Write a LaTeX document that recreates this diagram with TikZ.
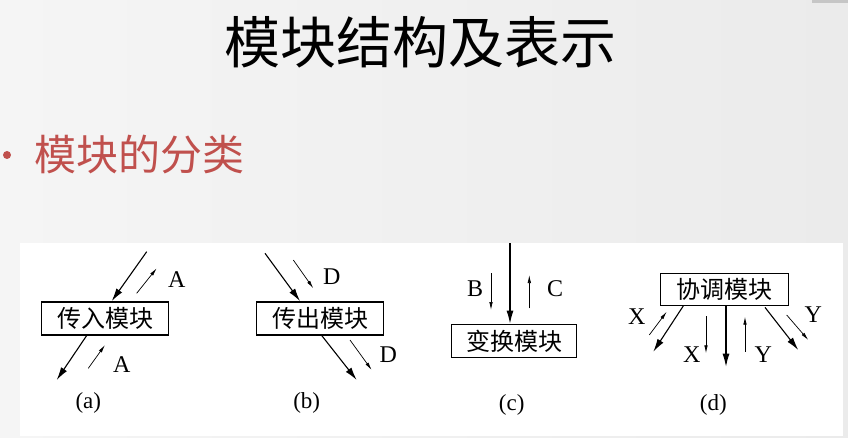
\documentclass[tikz,border=0pt]{standalone}
\usepackage{fontspec}
\setmainfont{Liberation Serif}
\newfontfamily\cjk{Noto Sans CJK SC}
\usetikzlibrary{arrows.meta,calc}
\definecolor{titlered}{HTML}{C0504D}
\definecolor{slidegray}{HTML}{EBEBEB}
\tikzset{
  modbox/.style={draw, line width=1.4pt, minimum width=127pt, minimum height=33pt, inner sep=0pt, font=\cjk\fontsize{24}{24}\selectfont},
  bigarr/.style={line width=1.1pt, -{Latex[length=13pt,width=7pt]}},
  smallarr/.style={line width=0.7pt, -{Latex[length=8pt,width=3.5pt]}},
  letter/.style={font=\fontsize{24}{24}\selectfont, inner sep=0pt},
  caption/.style={font=\fontsize{23}{23}\selectfont, inner sep=0pt}
}
\begin{document}
\begin{tikzpicture}[x=1pt,y=-1pt]
\useasboundingbox (0,0) rectangle (848,438);
% slide background and picture panel
\shade[left color=slidegray!50, middle color=white, right color=slidegray] (0,0) rectangle (848,438);
\fill[gray!45] (812,0) rectangle (848,3);
\fill[white] (20,243) rectangle (843,436);
\node[font=\cjk\fontsize{56}{56}\selectfont] (title) at (420,42) {模块结构及表示};
\node[circle, fill=titlered, inner sep=0pt, minimum size=8pt] (dot) at (7,155) {};
\node[anchor=west, text=titlered, font=\cjk\fontsize{42}{42}\selectfont] (kinds) at (31,155) {模块的分类};
% (a) incoming module
\node[modbox] (inbox) at (105,318.3) {传入模块};
\coordinate (ina) at (146.7,251.7); \coordinate (inb) at (56.7,380);
\draw[bigarr] (ina) -- ($(inbox.north)+(6.7,0)$);
\draw[bigarr] ($(inbox.south)+(-18.3,0)$) -- (inb);
\draw[smallarr] (136.7,293.3) coordinate (ins1) -- (156.7,268.3) coordinate (ine1);
\draw[smallarr] (88.3,368.3) coordinate (ins2) -- (105,345) coordinate (ine2);
\node[letter] (inA1) at (176.7,280) {A};
\node[letter] (inA2) at (121.7,365) {A};
\node[caption] (capa) at (88.3,403) {(a)};
% (b) outgoing module
\node[modbox] (outbox) at (320,318.3) {传出模块};
\coordinate (outa) at (265,253.3); \coordinate (outb) at (356.7,380);
\draw[bigarr] (outa) -- ($(outbox.north)+(-20,0)$);
\draw[bigarr] ($(outbox.south)+(1.7,0)$) -- (outb);
\draw[smallarr] (293.3,260) coordinate (outs1) -- (313.3,288.3) coordinate (oute1);
\draw[smallarr] (350,340) coordinate (outs2) -- (371.7,370) coordinate (oute2);
\node[letter] (outD1) at (331.7,276.7) {D};
\node[letter] (outD2) at (388.3,355) {D};
\node[caption] (capb) at (306.7,403) {(b)};
% (c) transform module
\node[modbox, minimum width=125pt] (transbox) at (514.2,340.8) {变换模块};
\coordinate (tra) at (510,243.3);
\draw[bigarr] (tra) -- (tra |- transbox.north);
\draw[smallarr] (491,273.3) coordinate (trs1) -- (491,310) coordinate (tre1);
\draw[smallarr] (529.3,308.3) coordinate (trs2) -- (529.3,275) coordinate (tre2);
\node[letter] (trB) at (475,288.3) {B};
\node[letter] (trC) at (555,288.3) {C};
\node[caption] (capc) at (511.7,405) {(c)};
% (d) coordinating module
\node[modbox, minimum width=128pt, minimum height=32pt] (coorbox) at (724.2,289.2) {协调模块};
\coordinate (coa) at (653.3,351.7); \coordinate (cob) at (726,366.7); \coordinate (coc) at (798.3,350);
\draw[bigarr] ($(coorbox.south)+(-40.9,0)$) -- (coa);
\draw[bigarr] (cob |- coorbox.south) -- (cob);
\draw[bigarr] ($(coorbox.south)+(40.8,1.5)$) -- (coc);
\draw[smallarr] (649.3,335) coordinate (cos1) -- (666.7,311.7) coordinate (coe1);
\draw[smallarr] (706,316) coordinate (cos2) -- (706,353.3) coordinate (coe2);
\draw[smallarr] (745,351.7) coordinate (cos3) -- (745,316.7) coordinate (coe3);
\draw[smallarr] (786.7,315) coordinate (cos4) -- (808.3,340) coordinate (coe4);
\node[letter] (coX1) at (636.7,316.7) {X};
\node[letter] (coX2) at (691.7,355) {X};
\node[letter] (coY1) at (763.3,355) {Y};
\node[letter] (coY2) at (813.3,315) {Y};
\node[caption] (capd) at (713.3,405) {(d)};
\end{tikzpicture}
\end{document}
